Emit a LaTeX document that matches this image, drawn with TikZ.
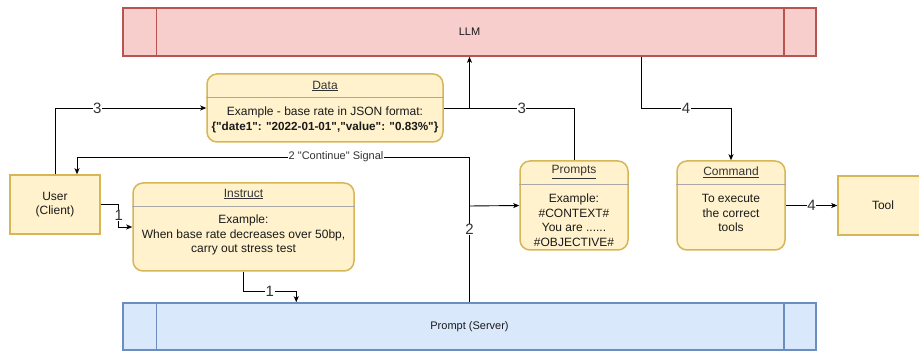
\documentclass[tikz,border=0pt]{standalone}
\usepackage{fontspec}
\setmainfont{Liberation Sans}
\usetikzlibrary{arrows.meta}
\definecolor{ylfill}{HTML}{FFF2CC}
\definecolor{yldraw}{HTML}{D6B656}
\definecolor{rdfill}{HTML}{F8CECC}
\definecolor{rddraw}{HTML}{B85450}
\definecolor{blfill}{HTML}{DAE8FC}
\definecolor{bldraw}{HTML}{6C8EBF}
\definecolor{txt}{HTML}{1A1A1A}
\definecolor{lblc}{HTML}{333333}
\definecolor{sepc}{HTML}{A8A8A8}
\newcommand{\qq}{\textquotedbl}
\begin{document}
\begin{tikzpicture}[x=1pt,y=-1pt,
  every node/.style={text=txt, font=\fontsize{12}{14.5}\selectfont},
  lane/.style={draw=yldraw, fill=ylfill, line width=1.5pt, rounded corners=10pt, inner sep=0pt},
  plainbox/.style={draw=yldraw, fill=ylfill, line width=1.5pt, inner sep=0pt, align=center},
  llmbox/.style={draw=rddraw, fill=rdfill, line width=1.5pt, inner sep=0pt, minimum width=693pt, font=\fontsize{11}{13}\selectfont},
  srvbox/.style={draw=bldraw, fill=blfill, line width=1.5pt, inner sep=0pt, minimum width=693pt, font=\fontsize{11}{13}\selectfont},
  ttl/.style={inner sep=0pt, text=lblc},
  body/.style={inner sep=0pt, align=center},
  sep/.style={draw=sepc, line width=0.8pt},
  conn/.style={draw=black, line width=0.9pt},
  arr/.style={conn, -{Stealth[length=6pt,width=5pt,inset=1.5pt]}},
  lbl/.style={fill=white, inner sep=0.5pt, text=lblc, font=\fontsize{15}{17}\selectfont},
  slbl/.style={fill=white, inner sep=0.5pt, text=lblc, font=\fontsize{11}{13}\selectfont}
]
\useasboundingbox (0,0) rectangle (919,352);

% bars
\node[llmbox, minimum height=48pt] (llm) at (469.5,32) {LLM};
\draw[draw=rddraw, line width=1.5pt] ([xshift=34pt]llm.north west) -- ([xshift=34pt]llm.south west);
\draw[draw=rddraw, line width=1.5pt] ([xshift=-33pt]llm.north east) -- ([xshift=-33pt]llm.south east);

\node[srvbox, minimum height=47pt] (server) at (469.5,326.5) {Prompt (Server)};
\draw[draw=bldraw, line width=1.5pt] ([xshift=34pt]server.north west) -- ([xshift=34pt]server.south west);
\draw[draw=bldraw, line width=1.5pt] ([xshift=-33pt]server.north east) -- ([xshift=-33pt]server.south east);

% plain boxes
\node[plainbox, minimum width=90pt, minimum height=59pt] (user) at (55,204.5) {User\\(Client)};
\node[plainbox, minimum width=90pt, minimum height=59pt] (tool) at (883,205.5) {Tool};

% Data
\node[lane, minimum width=236pt, minimum height=68pt] (data) at (325,108) {};
\draw[sep] ([yshift=-24pt]data.north west) -- ([yshift=-24pt]data.north east);
\node[ttl] (datat) at (325,86) {\underline{Data}};
\node[body] (datab) at (325,120) {Example - base rate in JSON format:\\{\fontsize{11.7}{14.5}\selectfont\bfseries \{\qq date1\qq: \qq 2022-01-01\qq,\qq value\qq: \qq 0.83\%\qq\}}};

% Instruct
\node[lane, minimum width=221pt, minimum height=88pt] (instr) at (243.5,227) {};
\draw[sep] ([yshift=-24pt]instr.north west) -- ([yshift=-24pt]instr.north east);
\node[ttl] (instrt) at (243.5,194) {\underline{Instruct}};
\node[body] (instrb) at (243.5,235) {Example:\\When base rate decreases over 50bp,\\carry out stress test};

% Prompts
\node[lane, minimum width=108pt, minimum height=89pt] (prompts) at (574,205.5) {};
\draw[sep] ([yshift=-24pt]prompts.north west) -- ([yshift=-24pt]prompts.north east);
\node[ttl] (promptst) at (574,172) {\underline{Prompts}};
\node[body] (promptsb) at (574,220) {Example:\\\#CONTEXT\#\\You are ......\\\#OBJECTIVE\#};

% Command
\node[lane, minimum width=108pt, minimum height=89pt] (command) at (731,205.5) {};
\draw[sep] ([yshift=-24pt]command.north west) -- ([yshift=-24pt]command.north east);
\node[ttl] (commandt) at (731,172) {\underline{Command}};
\node[body] (commandb) at (731,213) {To execute\\the correct\\tools};

% junctions
\coordinate (j3) at (469.5,108);
\coordinate (j2) at (469.5,206);
\coordinate (c4) at (641,108);
\coordinate (c2) at (469.5,157);

% connectors
\draw[arr] (user.east) -- ++(18,0) |- (instr.west) node[pos=0.25, lbl] {1};
\draw[arr] (instr.south) -- ++(0,20) -| ([xshift=174pt]server.north west) node[pos=0.25, lbl] {1};

\draw[arr] (user.north) |- (data.west) node[pos=0.64, lbl] {3};
\draw[arr] (data.east) -| (llm.south);
\draw[conn] (prompts.north) |- (j3) node[pos=0.75, lbl] {3};

\draw[arr] (server.north) -- node[pos=0.5, lbl] {2} (c2) -| ([xshift=22pt]user.north) node[pos=0.17, slbl] {2 \qq Continue\qq{} Signal};
\draw[arr] (j2) -- (prompts.west);

\draw[arr] (llm.south -| c4) -- (c4) -| (command.north) node[pos=0.25, lbl] {4};
\draw[arr] (command.east) -- (tool.west) node[midway, lbl] {4};
\end{tikzpicture}
\end{document}
